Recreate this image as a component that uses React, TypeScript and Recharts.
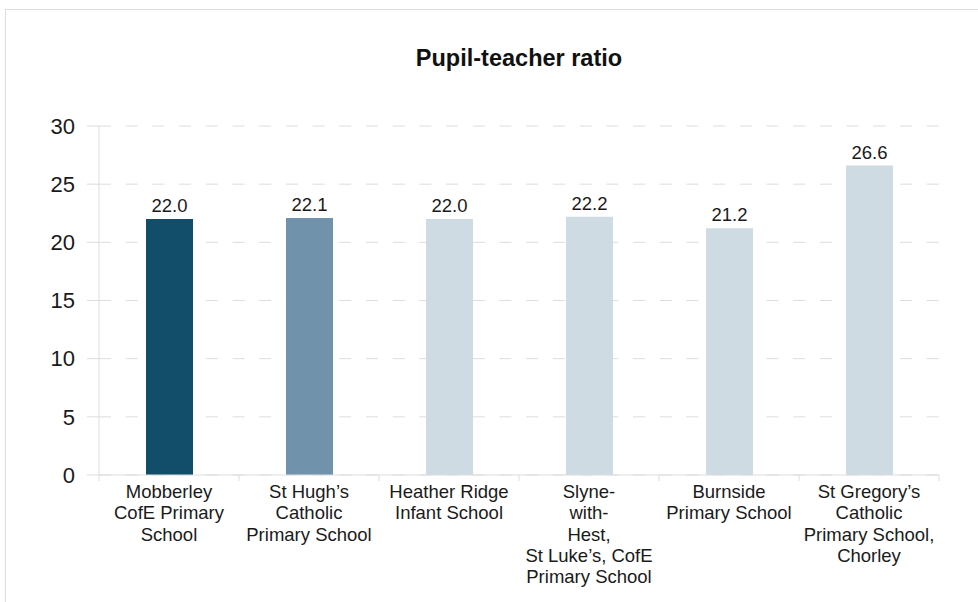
import React from 'react';
import { BarChart, Bar, XAxis, YAxis, CartesianGrid, Cell, LabelList } from 'recharts';

const schools = [
    'Mobberley\nCofE Primary\nSchool',
    'St Hugh’s\nCatholic\nPrimary School',
    'Heather Ridge\nInfant School',
    'Slyne-\nwith-\nHest,\nSt Luke’s, CofE\nPrimary School',
    'Burnside\nPrimary School',
    'St Gregory’s\nCatholic\nPrimary School,\nChorley',
];
const ratios = [22.0, 22.1, 22.0, 22.2, 21.2, 26.6];
const barColors = ['#124e69', '#7093ab', '#cedbe3', '#cedbe3', '#cedbe3', '#cedbe3'];
const yTicks = [0, 5, 10, 15, 20, 25, 30];

const data = schools.map((name, i) => ({ name, ratio: ratios[i] }));

const FONT = '"Liberation Sans", Arial, sans-serif';
const PLOT_LEFT = 99;
const PLOT_RIGHT = 939;
const BAND = (PLOT_RIGHT - PLOT_LEFT) / schools.length;

const SchoolTick = (props: any) => {
    const { x, y, payload, index } = props;
    const lines = String(payload.value).split('\n');
    return (
        <g>
            <line x1={x - BAND / 2} x2={x - BAND / 2} y1={y} y2={y + 6} stroke="#dddddd" />
            {index === schools.length - 1 && (
                <line x1={x + BAND / 2} x2={x + BAND / 2} y1={y} y2={y + 6} stroke="#dddddd" />
            )}
            <text x={x} y={y + 23} textAnchor="middle" fontSize={18.5} fill="#1a1a1a" fontFamily={FONT}>
                {lines.map((l, i) => (
                    <tspan key={i} x={x} dy={i === 0 ? 0 : 21.3}>
                        {l}
                    </tspan>
                ))}
            </text>
        </g>
    );
};

const App: React.FC = () => {
    return (
        <div style={{ position: 'absolute', left: 0, top: 0, width: 978, height: 602, overflow: 'hidden', background: '#fff', fontFamily: FONT }}>
            <div style={{ position: 'absolute', left: 5, top: 9, width: 1100, height: 700, border: '1px solid #dddddd' }} />
            <div
                style={{
                    position: 'absolute',
                    left: PLOT_LEFT,
                    top: 47,
                    width: PLOT_RIGHT - PLOT_LEFT,
                    textAlign: 'center',
                    fontSize: 23.5,
                    lineHeight: '23.5px',
                    fontWeight: 'bold',
                    color: '#111',
                }}
            >
                Pupil-teacher ratio
            </div>
            <div style={{ position: 'absolute', left: 0, top: 0 }}>
                <BarChart width={978} height={602} data={data} margin={{ top: 126, right: 978 - PLOT_RIGHT, bottom: 7, left: 0 }}>
                    <CartesianGrid vertical={false} stroke="#dddddd" strokeDasharray="12 14.7" />
                    <XAxis
                        dataKey="name"
                        interval={0}
                        height={120}
                        tickLine={false}
                        tickSize={0}
                        tickMargin={0}
                        axisLine={{ stroke: '#dddddd' }}
                        tick={<SchoolTick />}
                    />
                    <YAxis
                        width={PLOT_LEFT}
                        domain={[0, 30]}
                        ticks={yTicks}
                        interval={0}
                        tickSize={12}
                        tickMargin={12}
                        axisLine={{ stroke: '#dddddd' }}
                        tickLine={{ stroke: '#dddddd' }}
                        tick={{ fontSize: 22, fill: '#1a1a1a', fontFamily: FONT }}
                    />
                    <Bar dataKey="ratio" barSize={47} isAnimationActive={false}>
                        {data.map((d, i) => (
                            <Cell key={d.name} fill={barColors[i]} />
                        ))}
                        <LabelList
                            dataKey="ratio"
                            position="top"
                            offset={7}
                            formatter={(v: any) => Number(v).toFixed(1)}
                            style={{ fontSize: 18.5, fill: '#1a1a1a', fontFamily: FONT }}
                        />
                    </Bar>
                </BarChart>
            </div>
        </div>
    );
};

export default App;
